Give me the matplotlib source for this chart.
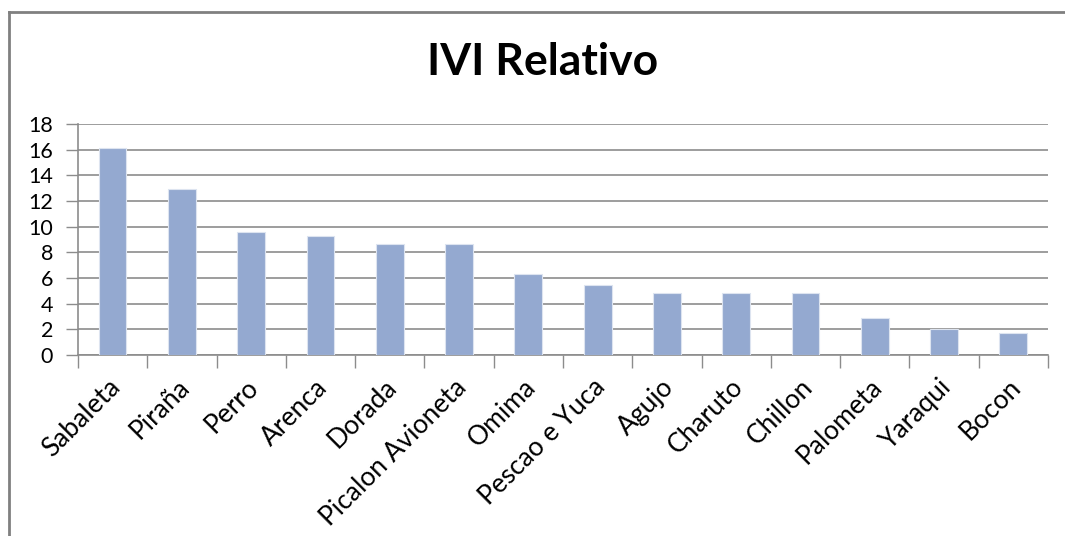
import matplotlib
matplotlib.use("Agg")
import matplotlib.pyplot as plt
from matplotlib.lines import Line2D
import numpy as np

categories = ["Sabaleta", "Piraña", "Perro", "Arenca", "Dorada", "Picalon Avioneta",
              "Omima", "Pescao e Yuca", "Agujo", "Charuto", "Chillon", "Palometa",
              "Yaraqui", "Bocon"]
values = [16.1, 12.9, 9.55, 9.25, 8.65, 8.65, 6.3, 5.45, 4.85, 4.85, 4.85, 2.85, 2.0, 1.75]
yticks = [0, 2, 4, 6, 8, 10, 12, 14, 16, 18]
title = "IVI Relativo"

W, H = 1065, 536
fig = plt.figure(figsize=(W / 100, H / 100), dpi=100)
fig.patch.set_facecolor("white")

font = "Lato"
grid_c = "#8c8c8c"

ax = fig.add_axes([78 / W, 1 - 355 / H, (1048 - 78) / W, (355 - 124) / H])
x = np.arange(len(categories))
ax.bar(x, values, width=0.4, color="#94A9D0", edgecolor="#dde4f0", linewidth=0.8, zorder=3)

ax.set_xlim(-0.5, len(categories) - 0.5)
ax.set_ylim(0, 18)
ax.set_yticks(yticks)
ax.set_yticklabels([str(v) for v in yticks], fontfamily=font, fontsize=15.5, color="#000000")
ax.yaxis.grid(True, color=grid_c, linewidth=1.2, zorder=0)
ax.set_axisbelow(True)

ax.set_xticks(np.arange(-0.5, len(categories), 1.0))
ax.set_xticklabels([])
ax.tick_params(axis="x", length=9, width=1, color=grid_c, direction="out")
ax.tick_params(axis="y", length=9, width=1, color=grid_c, direction="out", pad=9)

for i, c in enumerate(categories):
    ax.text(i + 0.05, -2.2, c, rotation=45, rotation_mode="anchor", ha="right", va="center",
            fontfamily=font, fontsize=19, transform=ax.transData, clip_on=False)

for s in ["top", "right"]:
    ax.spines[s].set_visible(False)
for s in ["left", "bottom"]:
    ax.spines[s].set_color(grid_c)
    ax.spines[s].set_linewidth(1.2)

fig.text(543 / W, 1 - 62 / H, title, ha="center", va="center", fontfamily=font,
         fontweight="bold", fontsize=32)

# chart area border (top and left)
fig.add_artist(Line2D([9 / W, 1.0], [1 - 12 / H, 1 - 12 / H], transform=fig.transFigure,
                      color="#808080", linewidth=2))
fig.add_artist(Line2D([9 / W, 9 / W], [0, 1 - 12 / H], transform=fig.transFigure,
                      color="#808080", linewidth=2))

fig.savefig("out.png", dpi=100, facecolor="white")
